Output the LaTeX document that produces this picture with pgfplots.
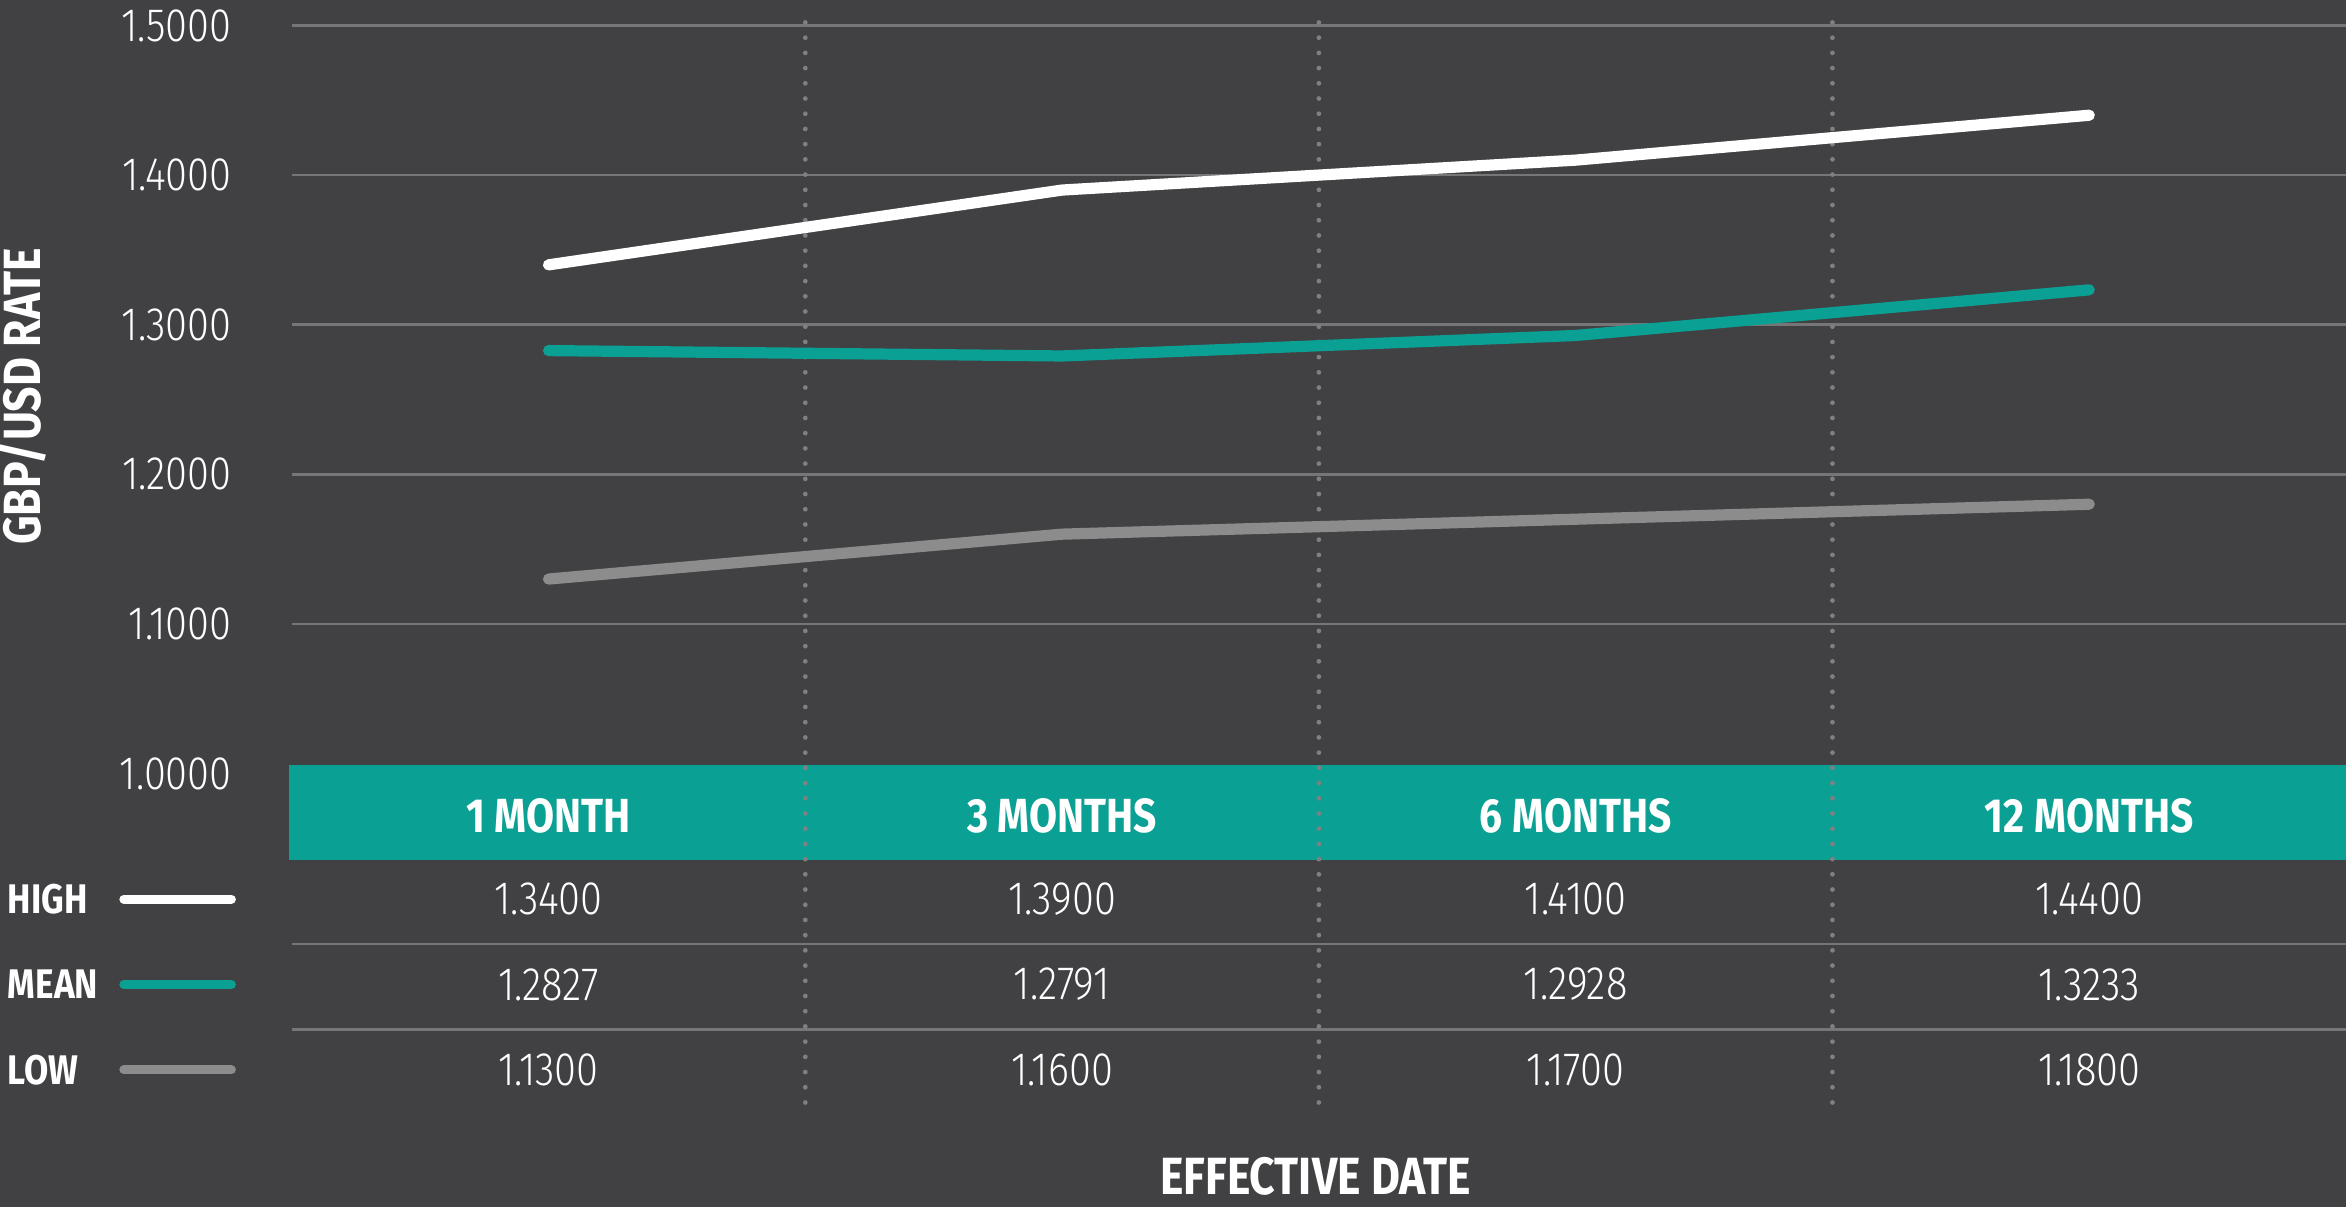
\documentclass[border=0pt]{standalone}
\usepackage{pgfplots}
\pgfplotsset{compat=1.18}
\usepackage{pgfplotstable}
\usepackage{fontspec}
\setmainfont{Fira Sans}
\newfontfamily\lightf{Fira Sans Light}[FakeStretch=0.85]
\newfontfamily\boldf{Fira Sans}[FakeStretch=0.85]
\definecolor{bg}{RGB}{65,65,67}
\definecolor{tealc}{RGB}{11,160,148}
\definecolor{gridc}{RGB}{118,118,120}
\definecolor{lowc}{RGB}{140,140,140}
\definecolor{dotc}{RGB}{128,128,131}
\pgfplotstableread{
x high mean low
0 1.3400 1.2827 1.1300
1 1.3900 1.2791 1.1600
2 1.4100 1.2928 1.1700
3 1.4400 1.3233 1.1800
}\data
\begin{document}
\begin{tikzpicture}
\useasboundingbox (0,0) rectangle (470.4pt,242.1pt);
\fill[bg] (0,0) rectangle (470.4pt,242.1pt);
\begin{axis}[
  at={(58.5pt,87pt)}, anchor=south west,
  width=411.9pt, height=150pt, scale only axis,
  xmin=-0.5, xmax=3.5, ymin=1, ymax=1.5,
  clip=false,
  axis line style={draw=none},
  xtick=\empty,
  ytick={1,1.1,1.2,1.3,1.4,1.5},
  yticklabels={1.0000,1.1000,1.2000,1.3000,1.4000,1.5000},
  major tick length=0pt,
  tick style={draw=none},
  yticklabel style={font=\lightf\fontsize{9.4}{10}\selectfont, text=white, xshift=-8.5pt},
  ymajorgrids, grid style={color=gridc, line width=0.55pt},
]
\fill[tealc] (axis cs:-0.506,1.006) rectangle (axis cs:3.5,0.942);
\draw[gridc, line width=0.55pt] (axis cs:-0.5,0.886) -- (axis cs:3.5,0.886);
\draw[gridc, line width=0.55pt] (axis cs:-0.5,0.829) -- (axis cs:3.5,0.829);
\draw[dotc, line width=0.95pt, line cap=round, dash pattern=on 0pt off 3.05pt] (axis cs:0.5,1.502) -- (axis cs:0.5,0.772);
\draw[dotc, line width=0.95pt, line cap=round, dash pattern=on 0pt off 3.05pt] (axis cs:1.5,1.502) -- (axis cs:1.5,0.772);
\draw[dotc, line width=0.95pt, line cap=round, dash pattern=on 0pt off 3.05pt] (axis cs:2.5,1.502) -- (axis cs:2.5,0.772);

\addplot[white, line width=2.25pt, line cap=round, line join=round] table[x=x,y=high]{\data};
\addplot[tealc, line width=2.25pt, line cap=round, line join=round] table[x=x,y=mean]{\data};
\addplot[lowc, line width=2.25pt, line cap=round, line join=round] table[x=x,y=low]{\data};

% header row
\node[white, font=\boldf\bfseries\fontsize{9.6}{10}\selectfont] at (axis cs:0,0.972) {1 MONTH};
\node[white, font=\boldf\bfseries\fontsize{9.6}{10}\selectfont] at (axis cs:1,0.972) {3 MONTHS};
\node[white, font=\boldf\bfseries\fontsize{9.6}{10}\selectfont] at (axis cs:2,0.972) {6 MONTHS};
\node[white, font=\boldf\bfseries\fontsize{9.6}{10}\selectfont] at (axis cs:3,0.972) {12 MONTHS};
% values
\node[white, font=\lightf\fontsize{9.4}{10}\selectfont] at (axis cs:0,0.916) {1.3400};
\node[white, font=\lightf\fontsize{9.4}{10}\selectfont] at (axis cs:1,0.916) {1.3900};
\node[white, font=\lightf\fontsize{9.4}{10}\selectfont] at (axis cs:2,0.916) {1.4100};
\node[white, font=\lightf\fontsize{9.4}{10}\selectfont] at (axis cs:3,0.916) {1.4400};
\node[white, font=\lightf\fontsize{9.4}{10}\selectfont] at (axis cs:0,0.859) {1.2827};
\node[white, font=\lightf\fontsize{9.4}{10}\selectfont] at (axis cs:1,0.859) {1.2791};
\node[white, font=\lightf\fontsize{9.4}{10}\selectfont] at (axis cs:2,0.859) {1.2928};
\node[white, font=\lightf\fontsize{9.4}{10}\selectfont] at (axis cs:3,0.859) {1.3233};
\node[white, font=\lightf\fontsize{9.4}{10}\selectfont] at (axis cs:0,0.802) {1.1300};
\node[white, font=\lightf\fontsize{9.4}{10}\selectfont] at (axis cs:1,0.802) {1.1600};
\node[white, font=\lightf\fontsize{9.4}{10}\selectfont] at (axis cs:2,0.802) {1.1700};
\node[white, font=\lightf\fontsize{9.4}{10}\selectfont] at (axis cs:3,0.802) {1.1800};
% legend
\node[white, anchor=west, inner sep=0pt, font=\boldf\bfseries\fontsize{8.3}{9}\selectfont] at (axis cs:-1.0545,0.916) {HIGH};
\node[white, anchor=west, inner sep=0pt, font=\boldf\bfseries\fontsize{8.3}{9}\selectfont] at (axis cs:-1.0545,0.859) {MEAN};
\node[white, anchor=west, inner sep=0pt, font=\boldf\bfseries\fontsize{8.3}{9}\selectfont] at (axis cs:-1.0545,0.802) {LOW};
\draw[white, line width=1.8pt, line cap=round] (axis cs:-0.827,0.916) -- (axis cs:-0.6175,0.916);
\draw[tealc, line width=1.8pt, line cap=round] (axis cs:-0.827,0.859) -- (axis cs:-0.6175,0.859);
\draw[lowc, line width=1.8pt, line cap=round] (axis cs:-0.827,0.802) -- (axis cs:-0.6175,0.802);
% axis titles
\node[white, font=\boldf\bfseries\fontsize{10.5}{12}\selectfont] at (axis cs:1.494,0.731) {EFFECTIVE DATE};
\node[white, rotate=90, font=\boldf\bfseries\fontsize{10.5}{12}\selectfont] at (axis cs:-1.0254,1.252) {GBP/USD RATE};
\end{axis}
\end{tikzpicture}
\end{document}
